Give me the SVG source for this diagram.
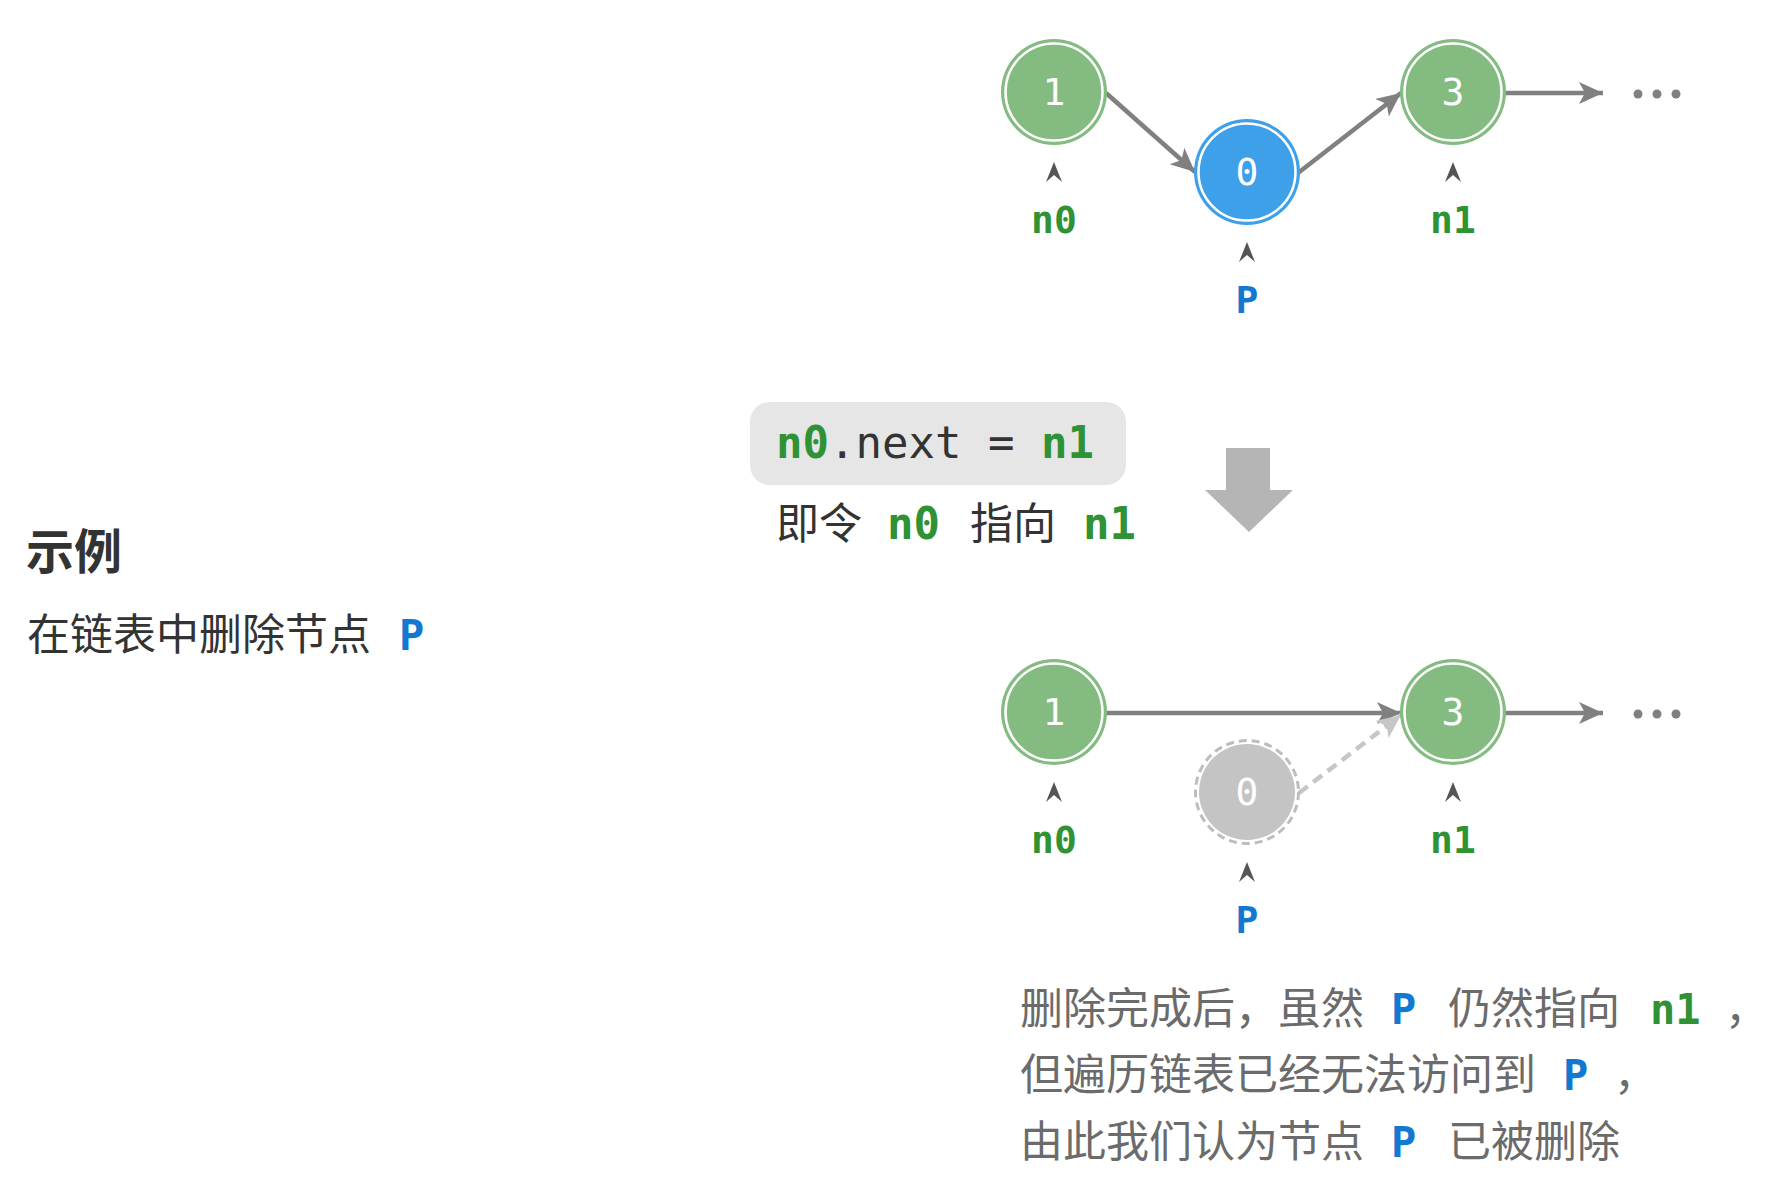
<svg xmlns="http://www.w3.org/2000/svg" width="1770" height="1186" viewBox="0 0 1770 1186">
<defs>
<style>
.bg{fill:#ffffff}
.gfill{fill:#83bb80}
.bfill{fill:#3ea0e8}
.xfill{fill:#c4c4c4}
.ring{fill:none;stroke:#ffffff;stroke-width:2.5}
.dring{fill:none;stroke:#bdbdbd;stroke-width:3;stroke-dasharray:8 5}
.val{font-family:"DejaVu Sans Mono",monospace;font-size:38px;fill:#ffffff;text-anchor:middle}
.lbl{font-family:"DejaVu Sans Mono",monospace;font-size:38px;font-weight:bold;text-anchor:middle}
.grn{fill:#2f9234}
.blu{fill:#1378d0}
.caret{fill:#555555}
.edge{stroke:#808080;stroke-width:4.5;fill:none}
.edged{stroke:#c6c6c6;stroke-width:4.5;fill:none;stroke-dasharray:11 7}
.cjk{font-family:"Noto Sans CJK SC","Noto Sans",sans-serif;font-size:43px}
.title{font-family:"Noto Sans CJK SC","Noto Sans",sans-serif;font-size:48px;font-weight:bold;fill:#333333}
.mono{font-family:"DejaVu Sans Mono",monospace;font-size:42px;font-weight:bold}
.mono44{font-family:"DejaVu Sans Mono",monospace;font-size:44px;font-weight:bold}
.code{font-family:"DejaVu Sans Mono",monospace;font-size:44px;fill:#333333}
.dots{fill:#808080}
</style>
<marker id="ah" markerUnits="userSpaceOnUse" markerWidth="26" markerHeight="24" refX="24" refY="11" orient="auto">
<path d="M0,0 L24,11 L0,22 L6,11 Z" fill="#808080"/>
</marker>
<marker id="ahd" markerUnits="userSpaceOnUse" markerWidth="26" markerHeight="24" refX="24" refY="11" orient="auto">
<path d="M0,0 L24,11 L0,22 L6,11 Z" fill="#c6c6c6"/>
</marker>
<path id="car" d="M-8,10 L0,-10 L8,10 L0,3 Z"/>
</defs>
<rect class="bg" x="0" y="0" width="1770" height="1186"/>

<g id="connectors">
<line class="edge" x1="1106" y1="93" x2="1195" y2="172" marker-end="url(#ah)"/>
<line class="edge" x1="1298" y1="173" x2="1401" y2="93" marker-end="url(#ah)"/>
<line class="edge" x1="1505" y1="93" x2="1603" y2="93" marker-end="url(#ah)"/>
<line class="edge" x1="1106" y1="713" x2="1401" y2="713" marker-end="url(#ah)"/>
<line class="edged" x1="1299" y1="793" x2="1401" y2="715" marker-end="url(#ahd)"/>
<line class="edge" x1="1505" y1="713" x2="1603" y2="713" marker-end="url(#ah)"/>
</g>

<g id="top-node1">
<circle class="gfill" cx="1054" cy="92" r="53"/>
<circle class="ring" cx="1054" cy="92" r="48.5"/>
<text class="val" x="1054" y="105">1</text>
</g>
<g id="top-node0">
<circle class="bfill" cx="1247" cy="172" r="53"/>
<circle class="ring" cx="1247" cy="172" r="48.5"/>
<text class="val" x="1247" y="185">0</text>
</g>
<g id="top-node3">
<circle class="gfill" cx="1453" cy="92" r="53"/>
<circle class="ring" cx="1453" cy="92" r="48.5"/>
<text class="val" x="1453" y="105">3</text>
</g>
<g id="top-dots" class="dots">
<circle cx="1638" cy="94" r="4.5"/><circle cx="1657" cy="94" r="4.5"/><circle cx="1676" cy="94" r="4.5"/>
</g>
<g id="top-ptr-n0">
<use href="#car" class="caret" x="1054" y="172"/>
<text class="lbl grn" x="1054" y="233">n0</text>
</g>
<g id="top-ptr-n1">
<use href="#car" class="caret" x="1453" y="172"/>
<text class="lbl grn" x="1453" y="233">n1</text>
</g>
<g id="top-ptr-p">
<use href="#car" class="caret" x="1247" y="252"/>
<text class="lbl blu" x="1247" y="313">P</text>
</g>

<g id="code">
<rect x="750" y="402" width="376" height="83" rx="20" fill="#e6e6e6"/>
<text class="code" x="776" y="458"><tspan class="grn" font-weight="bold">n0</tspan>.next = <tspan class="grn" font-weight="bold">n1</tspan></text>
<text class="cjk" fill="#333333" x="776" y="539">即令</text>
<text class="mono44 grn" x="887" y="539">n0</text>
<text class="cjk" fill="#333333" x="970" y="539">指向</text>
<text class="mono44 grn" x="1083" y="539">n1</text>
</g>

<g id="down-arrow">
<path d="M1226,448 L1270,448 L1270,490 L1293,490 L1249,532 L1205,490 L1226,490 Z" fill="#b5b5b5"/>
</g>

<g id="title">
<text class="title" x="26" y="569">示例</text>
<text class="cjk" fill="#333333" x="27" y="650">在链表中删除节点</text>
<text class="mono blu" x="399" y="650">P</text>
</g>

<g id="bot-node1">
<circle class="gfill" cx="1054" cy="712" r="53"/>
<circle class="ring" cx="1054" cy="712" r="48.5"/>
<text class="val" x="1054" y="725">1</text>
</g>
<g id="bot-node0">
<circle class="xfill" cx="1247" cy="792" r="48"/>
<circle class="dring" cx="1247" cy="792" r="51.5"/>
<text class="val" x="1247" y="805">0</text>
</g>
<g id="bot-node3">
<circle class="gfill" cx="1453" cy="712" r="53"/>
<circle class="ring" cx="1453" cy="712" r="48.5"/>
<text class="val" x="1453" y="725">3</text>
</g>
<g id="bot-dots" class="dots">
<circle cx="1638" cy="714" r="4.5"/><circle cx="1657" cy="714" r="4.5"/><circle cx="1676" cy="714" r="4.5"/>
</g>
<g id="bot-ptr-n0">
<use href="#car" class="caret" x="1054" y="792"/>
<text class="lbl grn" x="1054" y="853">n0</text>
</g>
<g id="bot-ptr-n1">
<use href="#car" class="caret" x="1453" y="792"/>
<text class="lbl grn" x="1453" y="853">n1</text>
</g>
<g id="bot-ptr-p">
<use href="#car" class="caret" x="1247" y="872"/>
<text class="lbl blu" x="1247" y="933">P</text>
</g>

<g id="note" fill="#6b6b6b">
<text class="cjk" x="1020" y="1024">删除完成后，虽然</text>
<text class="mono blu" x="1391" y="1024">P</text>
<text class="cjk" x="1448" y="1024">仍然指向</text>
<text class="mono grn" x="1650" y="1024">n1</text>
<text class="cjk" x="1725" y="1024">，</text>
<text class="cjk" x="1020" y="1090">但遍历链表已经无法访问到</text>
<text class="mono blu" x="1563" y="1090">P</text>
<text class="cjk" x="1614" y="1090">，</text>
<text class="cjk" x="1020" y="1157">由此我们认为节点</text>
<text class="mono blu" x="1391" y="1157">P</text>
<text class="cjk" x="1448" y="1157">已被删除</text>
</g>
</svg>
